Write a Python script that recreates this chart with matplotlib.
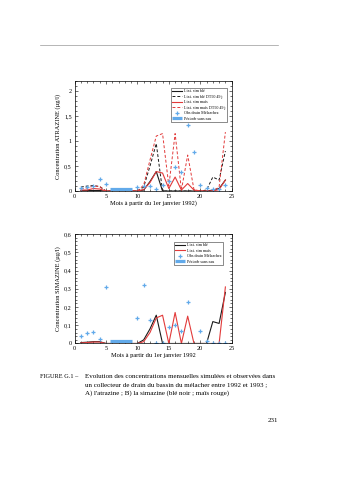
import numpy as np
import matplotlib
matplotlib.use('Agg')
import matplotlib.pyplot as plt
from matplotlib.ticker import MultipleLocator, FuncFormatter

plt.rcParams['font.family'] = ['Liberation Serif', 'DejaVu Serif']

# mois depuis le 1er janvier 1992
mois = list(range(1, 25))

# A) atrazine (ug/l)
atr_ble = [0.01, 0.01, 0.01, 0.01, 0, 0, 0, 0, 0, 0, 0.02, 0.19,
           0.39, 0, 0, 0, 0, 0, 0, 0, 0, 0.02, 0.05, 0.22]
atr_ble_dt50 = [0.08, 0.10, 0.11, 0.09, 0, 0, 0, 0, 0, 0, 0.08, 0.50,
                0.95, 0, 0, 0, 0, 0, 0, 0, 0.02, 0.28, 0.22, 0.80]
atr_mais = [0.02, 0.02, 0.05, 0.04, 0, 0, 0, 0, 0, 0, 0.03, 0.17,
            0.39, 0.36, 0.05, 0.28, 0.02, 0.15, 0.02, 0, 0, 0, 0.03, 0.22]
atr_mais_dt50 = [0.05, 0.06, 0.10, 0.09, 0, 0, 0, 0, 0, 0, 0.12, 0.62,
                 1.10, 1.15, 0.10, 1.15, 0.02, 0.72, 0.03, 0, 0, 0, 0.08, 1.18]
atr_obs = [0.06, 0.09, 0.11, 0.25, 0.14, np.nan, np.nan, np.nan, np.nan, 0.09,
           0.10, 0.10, 0.04, 0.13, 0.20, 0.48, 0.38, 1.33, 0.78, 0.12,
           0.07, 0.05, 0.05, 0.13]

# B) simazine (ug/l)
sim_ble = [0.005, 0.007, 0.01, 0.01, 0, 0, 0, 0, 0, 0, 0.02, 0.08,
           0.155, 0, 0, 0, 0, 0, 0, 0, 0, 0.12, 0.11, 0.28]
sim_mais = [0.003, 0.005, 0.008, 0.008, 0, 0, 0, 0, 0, 0, 0.01, 0.06,
            0.14, 0.155, 0, 0.17, 0, 0.15, 0, 0, 0, 0, 0, 0.31]
sim_obs = [0.04, 0.055, 0.065, 0.025, 0.31, np.nan, np.nan, np.nan, np.nan, 0.14,
           0.32, 0.13, 0, 0, 0.09, 0.10, 0.07, 0.225, np.nan, 0.07,
           0.015, 0, 0, 0]

# periode sans eau (mois)
sans_eau = [5.7, 9.2]
sans_eau_atr = 0.05
sans_eau_sim = 0.015

noir = '#1a1a1a'
rouge = '#e23a3a'
bleu = '#62aaea'

comma = FuncFormatter(lambda v, p: ('%g' % v).replace('.', ','))


def habille(ax, ymax, ymaj, ymin, ylabel, xlabel):
    ax.set_xlim(0, 25)
    ax.set_ylim(0, ymax)
    ax.xaxis.set_major_locator(MultipleLocator(5))
    ax.xaxis.set_minor_locator(MultipleLocator(1))
    ax.yaxis.set_major_locator(MultipleLocator(ymaj))
    ax.yaxis.set_minor_locator(MultipleLocator(ymin))
    ax.yaxis.set_major_formatter(comma)
    ax.tick_params(which='both', direction='in', top=True, right=True,
                   width=0.4, labelsize=4.4, pad=2)
    ax.tick_params(which='major', length=2.5)
    ax.tick_params(which='minor', length=1.3)
    for s in ax.spines.values():
        s.set_linewidth(0.5)
    ax.set_ylabel(ylabel, fontsize=4.6, labelpad=2)
    ax.set_xlabel(xlabel, fontsize=4.6, labelpad=1)


fig = plt.figure(figsize=(3.39, 4.8), dpi=100)

# trait en haut de page
fig.add_artist(plt.Line2D([40 / 339, 278 / 339], [1 - 45 / 480, 1 - 45 / 480],
                          color='#999999', lw=0.5))

# A) atrazine
ax1 = fig.add_axes([0.220, 0.602, 0.4634, 0.229])
ax1.plot(mois, atr_ble, color=noir, lw=0.8, label='Lixi. sim blé')
ax1.plot(mois, atr_ble_dt50, color=noir, lw=0.7, ls=(0, (3, 2)),
         label='Lixi. sim blé DT50 49 j')
ax1.plot(mois, atr_mais, color=rouge, lw=0.8, label='Lixi. sim maïs')
ax1.plot(mois, atr_mais_dt50, color=rouge, lw=0.7, ls=(0, (3, 2)),
         label='Lixi. sim maïs DT50 49 j')
ax1.plot(mois, atr_obs, ls='none', marker='+', ms=3.2, mew=0.9, color=bleu,
         label='Obs drain Mélarchez')
ax1.plot(sans_eau, [sans_eau_atr, sans_eau_atr], color=bleu, lw=2.3,
         solid_capstyle='butt', label='Période sans eau')
habille(ax1, 2.2, 0.5, 0.1, 'Concentration ATRAZINE (µg/l)',
        'Mois à partir du 1er janvier 1992)')
leg = ax1.legend(loc='upper right', bbox_to_anchor=(0.985, 0.96), fontsize=3,
                 handlelength=2.2, handletextpad=0.6, borderpad=0.4,
                 labelspacing=0.35, fancybox=False, edgecolor='black')
leg.get_frame().set_linewidth(0.4)

# B) simazine
ax2 = fig.add_axes([0.220, 0.2844, 0.4634, 0.228])
ax2.plot(mois, sim_ble, color=noir, lw=0.8, label='Lixi. sim blé')
ax2.plot(mois, sim_mais, color=rouge, lw=0.8, label='Lixi. sim maïs')
ax2.plot(mois, sim_obs, ls='none', marker='+', ms=3.2, mew=0.9, color=bleu,
         label='Obs drain Mélarchez')
ax2.plot(sans_eau, [sans_eau_sim, sans_eau_sim], color=bleu, lw=2.3,
         solid_capstyle='butt', label='Période sans eau')
habille(ax2, 0.6, 0.1, 0.02, 'Concentration SIMAZINE (µg/l)',
        'Mois à partir du 1er janvier 1992')
leg = ax2.legend(loc='upper right', bbox_to_anchor=(0.96, 0.95), fontsize=3,
                 handlelength=2.2, handletextpad=0.6, borderpad=0.4,
                 labelspacing=0.35, fancybox=False, edgecolor='black')
leg.get_frame().set_linewidth(0.4)

# legende de la figure
cap = 5.08
fig.text(40 / 339, 1 - 376 / 480, 'FIGURE G.1 –', fontsize=cap - 0.6, va='center')
fig.text(85 / 339, 1 - 376 / 480,
         'Evolution des concentrations mensuelles simulées et observées dans',
         fontsize=cap, va='center')
fig.text(85 / 339, 1 - 384.5 / 480,
         'un collecteur de drain du bassin du mélacher entre 1992 et 1993 ;',
         fontsize=cap, va='center')
fig.text(85 / 339, 1 - 393 / 480,
         "A) l'atrazine ; B) la simazine (blé noir ; maïs rouge)",
         fontsize=cap, va='center')
fig.text(278 / 339, 1 - 420 / 480, '231', fontsize=cap, va='center', ha='right')

fig.savefig('out.png', dpi=100)
